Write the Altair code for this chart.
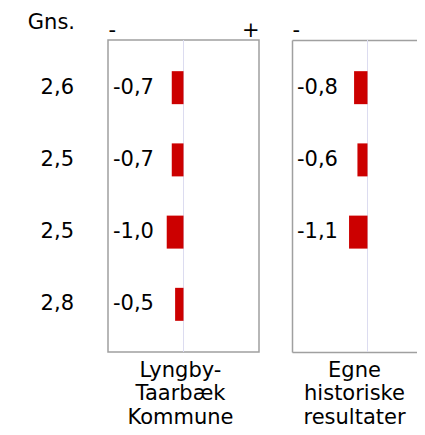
import altair as alt
import pandas as pd

rows = ["r1", "r2", "r3", "r4"]
gns = ["2,6", "2,5", "2,5", "2,8"]
panel_titles = [["Lyngby-", "Taarbæk", "Kommune"], ["Egne", "historiske", "resultater"]]
values_p1 = [-0.7, -0.7, -1.0, -0.5]
values_p2 = [-0.8, -0.6, -1.1, None]

FONT = "DejaVu Sans"
FS = 21
RED = "#cc0000"
BORDER = "#a0a0a0"
MID = "#dcdcf0"
PX_PER_UNIT = 151 / 9.0
DOMAIN1 = [-4.5, 4.5]
W2 = 125
DOMAIN2 = [-4.5, (W2 - 75.5) / PX_PER_UNIT]

yscale = alt.Scale(type="band", domain=rows, paddingInner=0, paddingOuter=0.16)

def fmt(v):
    return f"{v:.1f}".replace(".", ",")

gns_df = pd.DataFrame({"row": rows, "gns": gns})
gns_chart = alt.Chart(gns_df).mark_text(
    align="right", baseline="middle", font=FONT, fontSize=FS, color="black"
).encode(
    y=alt.Y("row:N", scale=yscale, axis=None), x=alt.value(66), text="gns:N"
).properties(
    width=67, height=312,
    view=alt.ViewBackground(stroke=None),
    title=alt.TitleParams("Gns.", anchor="end", orient="top", font=FONT,
                          fontSize=FS, fontWeight="normal", offset=7, color="black"),
)

def panel(vals, title, domain, width, full_border, title_dx):
    d = pd.DataFrame({"row": rows, "value": vals})
    d = d.dropna()
    d["label"] = [fmt(v) for v in d["value"]]
    d["zero"] = 0.0
    xs = alt.Scale(domain=domain, nice=False, zero=False)
    top_vals = domain if full_border else [domain[0]]
    xaxis_top = alt.Axis(orient="top", values=top_vals,
                         labelExpr="datum.value < 0 ? '-' : '+'",
                         labelFlush=True, ticks=False, domain=not full_border,
                         domainColor=BORDER, domainWidth=1.5, grid=False, title=None,
                         labelFont=FONT, labelFontSize=FS, labelColor="black",
                         labelPadding=0)
    xaxis_bottom = alt.Axis(orient="bottom", labels=False, ticks=False, grid=False,
                            title=None, domain=True, domainColor=BORDER, domainWidth=1.5)
    yaxis = alt.Axis(labels=False, ticks=False, grid=False, title=None,
                     domain=True, domainColor=BORDER, domainWidth=1.5)
    base = alt.Chart(d)
    rule = base.mark_rule(color=MID, strokeWidth=1).encode(
        x=alt.X("zero:Q", scale=xs, axis=xaxis_top)
    )
    bars = base.mark_bar(color=RED, size=33).encode(
        y=alt.Y("row:N", scale=yscale, axis=None if full_border else yaxis),
        x=alt.X("value:Q", scale=xs, axis=xaxis_top if full_border else xaxis_bottom),
        x2="zero:Q",
    )
    labels = base.mark_text(align="left", baseline="middle", font=FONT, fontSize=FS,
                            color="black").encode(
        y=alt.Y("row:N", scale=yscale), x=alt.value(5), text="label:N"
    )
    view = (alt.ViewBackground(stroke=BORDER, strokeWidth=1.5) if full_border
            else alt.ViewBackground(stroke=None))
    return alt.layer(rule, bars, labels).properties(
        width=width, height=312,
        view=view,
        title=alt.TitleParams(title, orient="bottom", anchor="middle", font=FONT,
                              fontSize=FS, fontWeight="normal", lineHeight=23.5,
                              offset=7, dx=title_dx, color="black"),
    )

p1 = panel(values_p1, panel_titles[0], DOMAIN1, 151, True, -3)
p2 = panel(values_p2, panel_titles[1], DOMAIN2, W2, False, 0)

chart = alt.hconcat(gns_chart, p1, p2, spacing=33, bounds="flush").properties(
    padding={"left": 0, "top": 4, "right": 0, "bottom": 0}
)

chart.save("out.html", embed_options={"renderer": "svg", "actions": False})
